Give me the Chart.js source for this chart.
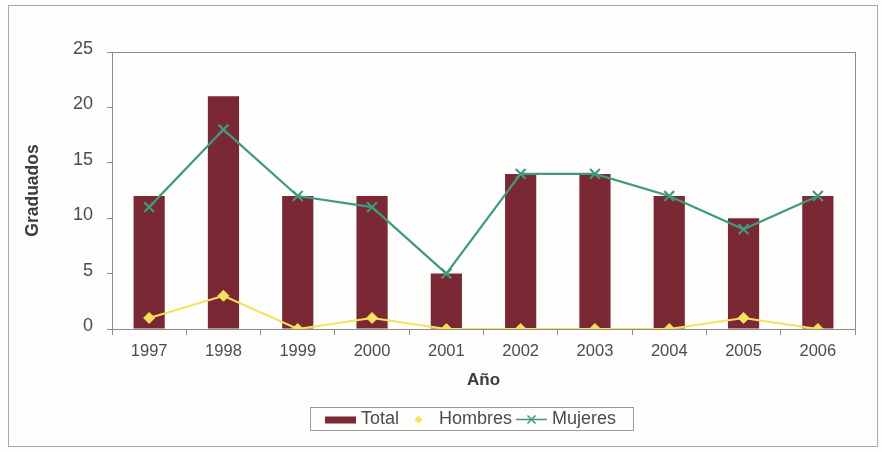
<!DOCTYPE html>
<html>
<head>
<meta charset="utf-8">
<script src="https://cdn.jsdelivr.net/npm/chart.js@4.4.1/dist/chart.umd.min.js"></script>
<style>
  html, body { margin: 0; padding: 0; background: #fdfdfc; }
  #wrap { width: 882px; height: 452px; position: relative; }
</style>
</head>
<body>
<div id="wrap"><canvas id="c" width="882" height="452"></canvas></div>
<script>
// Graduados por año
const years = ['1997', '1998', '1999', '2000', '2001', '2002', '2003', '2004', '2005', '2006'];
const total = [12, 21, 12, 12, 5, 14, 14, 12, 10, 12];
const hombres = [1, 3, 0, 1, 0, 0, 0, 0, 1, 0];
const mujeres = [11, 18, 12, 11, 5, 14, 14, 12, 9, 12];
const yTicks = [0, 5, 10, 15, 20, 25];

const COL_TOTAL = '#7a2834';
const COL_HOMBRES = '#f6e15c';
const COL_MUJERES = '#3f9a7e';
const AXIS = '#8c8c8c';
const TEXT = '#3c3c3c';
const TICK_TEXT = '#4c4c4c';
const FONT = '"Liberation Sans", Arial, sans-serif';

// Outer frame, plot borders and boxed legend
const decor = {
  id: 'decor',
  beforeDraw(chart) {
    const ctx = chart.ctx;
    ctx.save();
    ctx.fillStyle = '#fdfdfc';
    ctx.fillRect(0, 0, chart.width, chart.height);
    ctx.strokeStyle = '#a9a9a9';
    ctx.lineWidth = 1;
    ctx.strokeRect(8.5, 5.5, 869, 441);
    ctx.restore();
  },
  afterDatasetsDraw(chart) {
    const ctx = chart.ctx;
    const a = chart.chartArea;
    ctx.save();
    ctx.strokeStyle = AXIS;
    ctx.lineWidth = 1;
    ctx.beginPath();
    ctx.moveTo(Math.round(a.right) + 0.5, a.top);
    ctx.lineTo(Math.round(a.right) + 0.5, a.bottom);
    ctx.stroke();
    ctx.restore();
  },
  afterDraw(chart) {
    const ctx = chart.ctx;
    ctx.save();
    ctx.font = '18px ' + FONT;
    const items = chart.data.datasets.map(d => d.label);
    const symW = 31, gapSym = 5, gapItem = 4;
    const widths = items.map(t => symW + gapSym + ctx.measureText(t).width);
    const inner = widths.reduce((s, w) => s + w, 0) + gapItem * (items.length - 1);
    const cx = 471.5, top = 407, h = 23;
    const padL = 15, padR = 17;
    const left = cx - (inner + padL + padR) / 2;
    ctx.strokeStyle = '#9a9a9a';
    ctx.lineWidth = 1;
    ctx.strokeRect(Math.round(left) + 0.5, top + 0.5, Math.round(inner + padL + padR), h);
    let x = left + padL;
    const cy = top + h / 2 + 1;
    items.forEach((label, i) => {
      const ds = chart.data.datasets[i];
      if (ds.type === 'bar') {
        ctx.fillStyle = ds.backgroundColor;
        ctx.fillRect(x, cy - 3, symW, 7);
      } else if (ds.pointStyle === 'rectRot') {
        ctx.fillStyle = ds.borderColor;
        ctx.beginPath();
        const mx = x + symW / 2;
        ctx.moveTo(mx, cy - 4); ctx.lineTo(mx + 4, cy); ctx.lineTo(mx, cy + 4); ctx.lineTo(mx - 4, cy);
        ctx.closePath(); ctx.fill();
      } else {
        ctx.strokeStyle = ds.borderColor;
        ctx.lineWidth = 1.5;
        ctx.beginPath();
        ctx.moveTo(x, cy); ctx.lineTo(x + symW, cy);
        const mx = x + symW / 2;
        ctx.moveTo(mx - 4, cy - 4); ctx.lineTo(mx + 4, cy + 4);
        ctx.moveTo(mx + 4, cy - 4); ctx.lineTo(mx - 4, cy + 4);
        ctx.stroke();
      }
      ctx.fillStyle = TICK_TEXT;
      ctx.textBaseline = 'middle';
      ctx.fillText(label, x + symW + gapSym, cy);
      x += widths[i] + gapItem;
    });
    ctx.restore();
  }
};

new Chart(document.getElementById('c'), {
  data: {
    labels: years,
    datasets: [
      {
        type: 'bar', label: 'Total', data: total,
        backgroundColor: COL_TOTAL, order: 3,
        barPercentage: 0.42, categoryPercentage: 1
      },
      {
        type: 'line', label: 'Hombres', data: hombres,
        borderColor: COL_HOMBRES, backgroundColor: COL_HOMBRES,
        borderWidth: 2, pointStyle: 'rectRot', pointRadius: 5.5,
        pointBorderWidth: 1, tension: 0, order: 2
      },
      {
        type: 'line', label: 'Mujeres', data: mujeres,
        borderColor: COL_MUJERES, backgroundColor: COL_MUJERES,
        borderWidth: 2.2, pointStyle: 'crossRot', pointRadius: 7,
        pointBorderWidth: 2.2, tension: 0, order: 1
      }
    ]
  },
  options: {
    responsive: false,
    animation: false,
    layout: { padding: { left: 14, right: 27, top: 52, bottom: 61 } },
    plugins: { legend: { display: false }, tooltip: { enabled: false } },
    scales: {
      x: {
        offset: true,
        afterFit: s => { s.height = 62; },
        grid: { offset: true, drawOnChartArea: false, color: AXIS, tickLength: 6 },
        border: { color: AXIS },
        ticks: { color: TICK_TEXT, font: { family: FONT, size: 16.5 }, padding: 7, maxRotation: 0 },
        title: { display: true, text: 'Año', color: TEXT, font: { family: FONT, size: 17, weight: 'bold' }, padding: { top: 0, bottom: 0 } }
      },
      y: {
        min: 0, max: 25,
        afterFit: s => { s.width = 98; },
        afterBuildTicks: s => { s.ticks = yTicks.map(v => ({ value: v })); },
        grid: {
          color: c => (c.tick && c.tick.value === 25 ? AXIS : 'rgba(0,0,0,0)'),
          tickColor: AXIS, tickLength: 5
        },
        border: { color: AXIS },
        ticks: { color: TICK_TEXT, font: { family: FONT, size: 18 }, padding: 14, labelOffset: -3 },
        title: { display: true, text: 'Graduados', color: TEXT, font: { family: FONT, size: 17.5, weight: 'bold' }, padding: { top: 9, bottom: 0 } }
      }
    }
  },
  plugins: [decor]
});
</script>
</body>
</html>
